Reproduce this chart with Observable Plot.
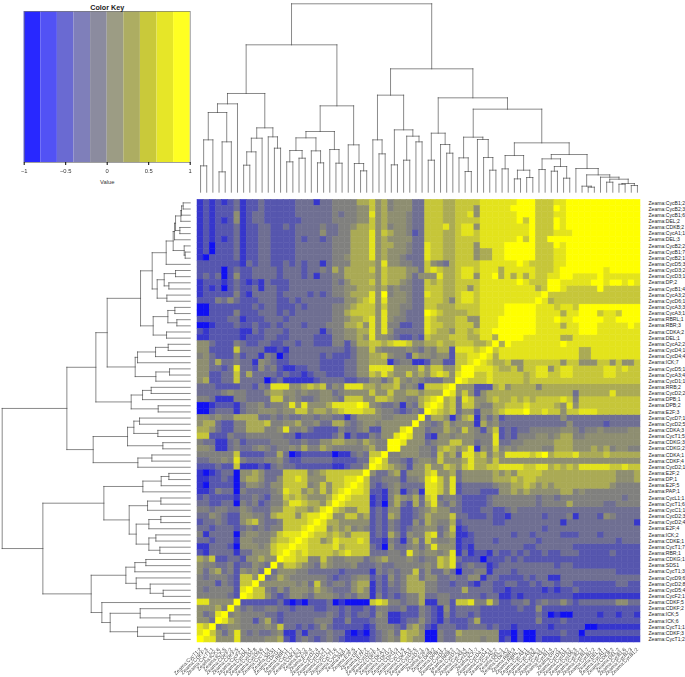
<!DOCTYPE html>
<html><head><meta charset="utf-8">
<script src="https://cdn.jsdelivr.net/npm/d3@7"></script>
<script src="https://cdn.jsdelivr.net/npm/@observablehq/plot@0.6"></script>
<style>
html,body{margin:0;padding:0;background:#fff}
#page{position:relative;width:685px;height:677px;overflow:hidden;font-family:"Liberation Sans",Arial,sans-serif}
#page svg{position:absolute;left:0;top:0;background:none}
#page svg g[aria-label="x-axis tick label"]{filter:grayscale(1)}
</style></head><body><div id="page"></div>
<script>
// Row labels, top to bottom. Columns carry the same labels in reverse order.
const geneNames = ["CycB1;2","CycB2;3","CycB1;6","DEL;2","CDKB;2","CycA1;1","DEL;3","CycB2;2","CycB1;7","CycB2;1","CycD5;3","CycD3;2","CycD3;1","DP;2","CycB1;4","CycA3;2","CycD6;1","CycA3;3","CycA3;1","RBRL;1","RBR;3","CDKA;2","DEL;1","CycA2;2","CycD4;1","CycD4;4","ICK;7","CycD5;1","CycA3;4","CycD1;1","RRB;2","CycD2;2","DPB;1","DPB;2","E2F;3","CycD7;1","CycD2;5","CDKA;3","CycT1;5","CDKG;3","CDKG;2","CDKA;1","CDKF;4","CycD2;1","E2F;2","DP;1","E2F;5","PAP;1","CycL1;1","CycT1;6","CycC1;1","CycD2;3","CycD2;4","E2F;4","ICK;2","CDKE;1","CycT1;7","RBR;1","CDKG;1","SDS1","CycT1;3","CycD9;6","CycD2;8","CycD5;4","CycF2;1","CDKF;5","CDKF;2","ICK;5","ICK;6","CycT1;1","CDKF;3","CycT1;2"];
const labels = geneNames.map(d => "Zeama:" + d);

// Colour bin (0..9) of each cell in the upper-left triangle; the matrix is symmetric
// about the anti-diagonal, so the other half is the mirror of this one.
const binRows = [
"121212 312232 222233 313344 446675 645553 377766 777788 888899 977788 999999 999999",
"121222 312232 222233 333344 445575 645553 377766 777588 888999 977798 999999 99999",
"121222 512332 222233 333343 445585 655543 377766 778588 888899 977788 999999 9999",
"121212 512332 222223 333344 445575 655543 377766 777788 888897 977798 999999 999",
"121222 312233 223233 334334 456675 645543 377786 788588 888888 977798 999999 99",
"121222 312233 222233 335334 466685 765542 377766 788788 888888 977788 899999 9",
"121212 312233 222232 332344 466685 655553 377766 777788 888897 977999 999999",
"120222 312233 222233 333344 466685 665543 387766 777588 889999 977798 99999",
"120222 312233 222233 333344 466685 655543 387766 777566 889999 977788 9999",
"102222 312233 222233 333344 566685 655433 387766 777566 889999 977788 999",
"222222 213233 223232 331344 466665 855443 375436 777788 888898 777788 99",
"222202 322333 323332 334364 666675 766655 378766 788788 868888 877789 9",
"232302 522333 323332 313344 666665 766653 555866 788588 968686 877889",
"122212 321213 222333 333343 566675 766543 376766 777788 888898 77799",
"121202 322313 322333 333344 556665 645443 377766 775788 888888 8679",
"122222 421333 323333 232344 566685 945543 387766 788788 888888 889",
"222435 322233 322323 333333 556785 855543 377764 788788 888888 89",
"002222 222323 322232 333344 567775 755443 377666 777788 889999 9",
"002222 422233 323233 333344 677775 855433 398766 667788 889999",
"222223 312223 332333 333344 566785 854433 387666 775588 89999",
"001222 322322 323332 333444 667585 844223 387766 777588 8999",
"212222 211323 332333 331344 556685 853333 387665 776788 999",
"112222 212223 322333 322244 556585 543223 276667 776688 69",
"553222 432233 223323 322244 246677 678875 566766 777667 9",
"552222 733331 121333 333333 235575 444454 354662 888789",
"453222 423314 302333 332322 235566 754426 554552 77889",
"553633 433154 322333 332222 335566 613441 125522 7789",
"553323 833253 421122 332222 335588 885555 757755 799",
"552233 736333 323221 233222 335576 865575 657875 89",
"562233 733330 231111 123333 223355 357545 433355 9",
"333222 233243 888556 767354 888665 667454 177789",
"333345 443335 665545 445534 555575 575566 56669",
"443111 443333 774543 345543 777557 765544 6789",
"001222 134453 445858 555688 889854 334143 689",
"002333 134455 545577 566567 888775 443234 39",
"554544 666633 434334 434433 135555 445555 9",
"566322 446667 445564 453366 434554 555559",
"665322 446664 458445 322224 334522 55589",
"772224 334444 443312 222235 132243 5589",
"433113 423333 444334 335566 554654 499",
"554113 433454 344546 446544 444564 49",
"444444 722223 363012 222201 134377 9",
"334454 843334 453223 333322 223389",
"222322 711121 343322 222211 23359",
"101233 055653 337777 456777 7779",
"112232 056653 357787 555777 889",
"102222 035543 557777 457577 89",
"112433 043333 458775 657578 9",
"232222 133432 447676 555689",
"332233 043423 446887 66579",
"443443 354333 557766 5689",
"335432 255443 677757 889",
"233432 256743 347777 89",
"332333 234343 447778 9",
"413333 045544 578889",
"332333 155444 67789",
"113332 055545 7889",
"213333 133555 789",
"657223 325565 59",
"544334 233543 9",
"535634 254539",
"434443 27759",
"444243 2779",
"434444 289",
"444443 29",
"885555 9",
"555649",
"53489",
"5539",
"879",
"89",
"9"];

const binColors = ["#1010f2","#3636cc","#5656ae","#6f6f92","#80807e","#8e8e71","#aaaa55","#c6c639","#e3e31c","#ffff00"];
const keyColors = ["#2828ff","#5252f5","#6a6ad2","#7f7fba","#8b8b9f","#9c9c84","#adad62","#c9c93a","#e6e628","#ffff22"];
const keyBreaks = [-1,-0.8,-0.6,-0.4,-0.2,0,0.2,0.4,0.6,0.8,1];
const keyTicks = [-1,-0.5,0,0.5,1];

// Dendrograms as nested [height, left, right]; 0 is a leaf.
const L = 0;
const topTree = [565,
  [442,
    [296,
      [265,
        [239,
          [157,[79,L,L],L],
          [151,[61,L,L],L]],
        L],
      [193,
        [162,[121,[81,L,L],L],L],
        [166,L,[132,L,L]]]],
    [259,
      [182,
        [163,
          [125,[91,L,L],[102,L,L]],
          [124,L,[88,L,L]]],
        [128,L,[87,L,L]]],
      [142,L,[86,L,[64,L,L]]]]],
  [370,
    [291,
      [157,L,[115,L,L]],
      [187,
        [82,L,L],
        [168,[96,L,L],[151,L,L]]]],
    [283,
      [177,
        [96,L,L],
        [143,L,[117,L,L]]],
      [249,
        [165,
          [103,L,[62,L,L]],
          [158,L,[104,L,[66,L,L]]]],
        [148,
          [110,
            [70,L,L],
            [66,[40,L,L],[44,L,L]]],
          [113,
            [100,
              [68,L,L],
              [77,[63,L,L],[42,L,L]]],
            [71,
              L,
              [52,
                [18,L,[15,L,L]],
                [45,
                  L,
                  [39,
                    [30,L,L],
                    [26,[24,L,L],[20,L,L]]]]]]]]]]]];

const sideTree = [564,
  [370,
    [283,
      [249,
        [149,
          [114,
            [72,
              [51,
                [47,[44,[28,[26,[21,L,L],L],L],[31,L,L]],L],
                [18,L,[15,L,L]]],
              L],
            [99,
              [78,[44,L,L],[64,L,L]],
              [70,L,L]]],
          [111,
            [67,[46,L,L],[40,L,L]],
            [71,L,L]]],
        [165,
          [158,[104,[66,L,L],L],L],
          [103,[62,L,L],L]]],
      [177,[143,[117,L,L],L],[96,L,L]]],
    [291,
      [188,[169,[152,L,L],[97,L,L]],[82,L,L]],
      [157,[115,L,L],L]]],
  [442,
    [259,
      [142,[87,[64,L,L],L],L],
      [183,
        [128,[88,L,L],L],
        [162,
          [124,[88,L,L],L],
          [124,[103,L,L],[91,L,L]]]]],
    [297,
      [193,
        [166,[133,L,L],L],
        [162,L,[120,L,[81,L,L]]]],
      [265,
        L,
        [240,
          [150,L,[61,L,L]],
          [158,L,[79,L,L]]]]]]];
</script>
<script>
const page = document.getElementById("page");
const N = labels.length;
const indices = d3.range(N);

// Build the cell table, mirroring across the anti-diagonal.
const cells = [];
binRows.forEach((row, r) => {
  const digits = row.replace(/ /g, "");
  for (let c = 0; c < digits.length; c++) {
    const v = +digits[c];
    cells.push({r, c, v});
    if (r + c < N - 1) cells.push({r: N - 1 - c, c: N - 1 - r, v});
  }
});

function treeSegments(tree) {
  let next = 0;
  const segs = [];
  (function walk(n) {
    if (n === 0) return {p: next++, h: 0};
    const a = walk(n[1]), b = walk(n[2]), h = n[0];
    segs.push({p1: a.p, h1: h, p2: b.p, h2: h});
    segs.push({p1: a.p, h1: a.h, p2: a.p, h2: h});
    segs.push({p1: b.p, h1: b.h, p2: b.p, h2: h});
    return {p: (a.p + b.p) / 2, h};
  })(tree);
  return segs;
}

const X0 = 197, X1 = 640, Y0 = 199.3, Y1 = 642;
const LINE = {stroke: "#3a3a3a", strokeWidth: 0.6, strokeLinecap: "square"};

page.append(Plot.plot({
  width: 685, height: 677,
  marginLeft: X0, marginRight: 685 - X1, marginTop: Y0, marginBottom: 677 - Y1,
  x: {type: "band", domain: indices, padding: 0, round: false, align: 0},
  y: {type: "band", domain: indices, padding: 0, round: false, align: 0},
  color: {type: "ordinal", domain: d3.range(10), range: binColors},
  style: {fontFamily: "'Liberation Sans',Arial,sans-serif"},
  marks: [
    Plot.cell(cells, {x: "c", y: "r", fill: "v", stroke: "v", strokeWidth: 0.5}),
    Plot.axisY({anchor: "right", tickSize: 0, tickPadding: 8, fontSize: 5.1, fill: "#222",
      label: null, tickFormat: i => labels[i]}),
    Plot.axisX({anchor: "bottom", tickSize: 0, tickPadding: 6, tickRotate: -45, fontSize: 5.1, fill: "#444",
      textAnchor: "end", label: null, tickFormat: i => labels[N - 1 - i]})
  ]
}));

page.append(Plot.plot({
  width: 685, height: 197, margin: 0,
  x: {domain: [-0.5, N - 0.5], range: [X0, X1], axis: null},
  y: {domain: [0, 565], range: [191.7, 3.3], axis: null},
  marks: [Plot.link(treeSegments(topTree), {x1: "p1", y1: "h1", x2: "p2", y2: "h2", ...LINE})]
}));

page.append(Plot.plot({
  width: 197, height: 677, margin: 0,
  x: {domain: [0, 564], range: [189.7, 1.7], axis: null},
  y: {domain: [-0.5, N - 0.5], range: [Y0, Y1], axis: null},
  marks: [Plot.link(treeSegments(sideTree), {x1: "h1", y1: "p1", x2: "h2", y2: "p2", ...LINE})]
}));

const keyBands = keyColors.map((color, i) => ({x1: keyBreaks[i], x2: keyBreaks[i + 1], color}));
page.append(Plot.plot({
  width: 197, height: 195,
  marginLeft: 23.7, marginRight: 7.3, marginTop: 11, marginBottom: 33,
  x: {domain: [-1, 1]},
  color: {type: "identity"},
  style: {fontFamily: "'Liberation Sans',Arial,sans-serif"},
  marks: [
    Plot.rect(keyBands, {x1: "x1", x2: "x2", fill: "color"}),
    Plot.frame({stroke: "#777", strokeWidth: 0.7}),
    Plot.axisX({ticks: keyTicks, tickSize: 3, tickPadding: 3, fontSize: 5.8, fill: "#333",
      tickFormat: d => String(d).replace("-", "\u2212"),
      label: "Value", labelAnchor: "center", labelArrow: "none", labelOffset: 21}),
    Plot.text(["Color Key"], {frameAnchor: "top", dy: -7, fontWeight: "bold", fontSize: 7.2, fill: "#222"})
  ]
}));
</script>
</body></html>
